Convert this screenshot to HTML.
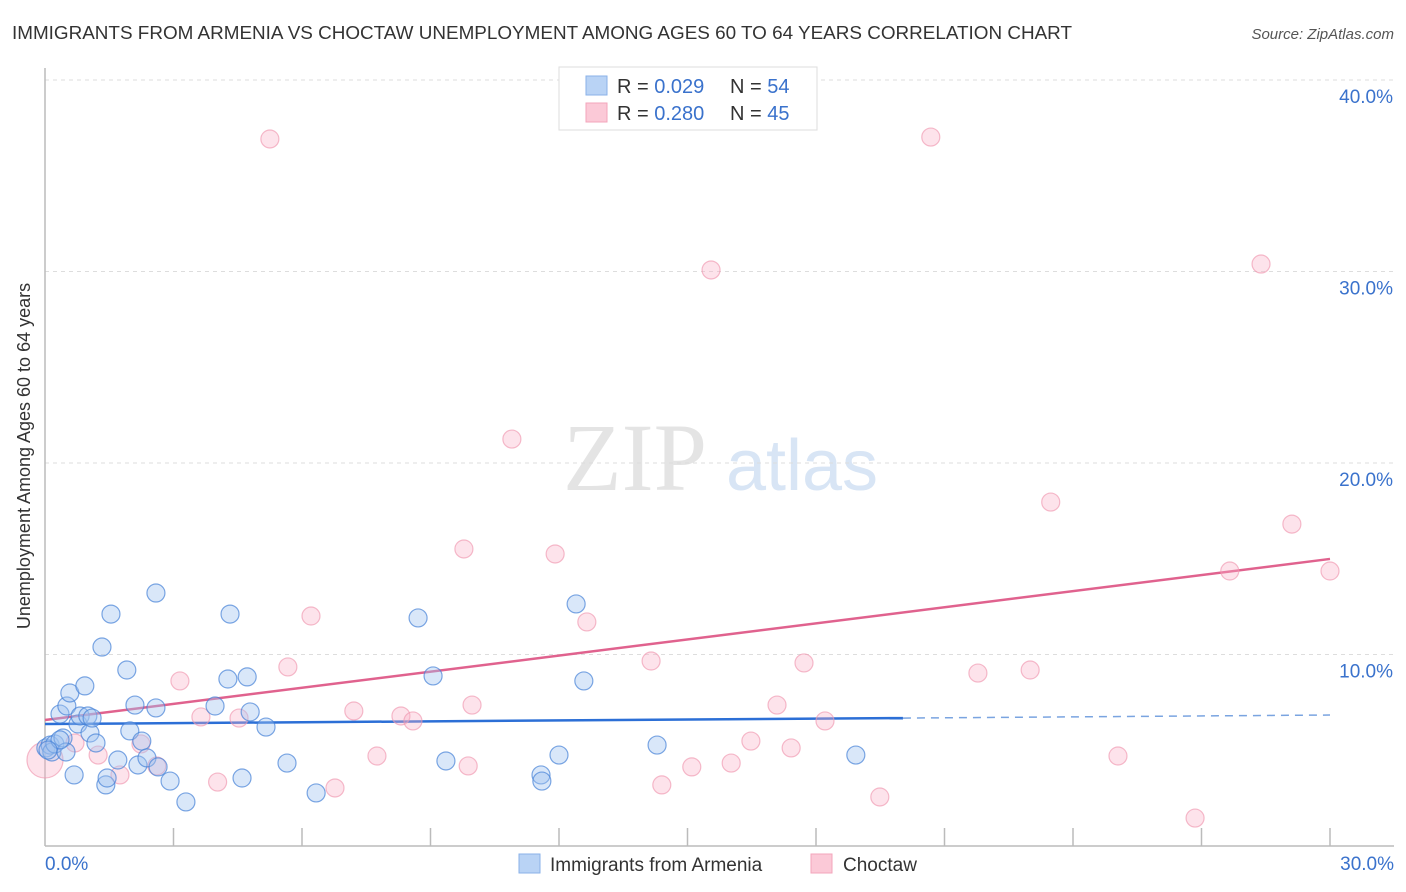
<!DOCTYPE html>
<html><head><meta charset="utf-8"><style>
body{margin:0;background:#fff;font-family:"Liberation Sans",sans-serif;}
svg{display:block}
</style></head><body>
<svg width="1406" height="892" id="chart">
<text x="12" y="39" font-size="18.8" fill="#333" textLength="1060" lengthAdjust="spacingAndGlyphs">IMMIGRANTS FROM ARMENIA VS CHOCTAW UNEMPLOYMENT AMONG AGES 60 TO 64 YEARS CORRELATION CHART</text>
<text x="1394" y="39" font-size="15" fill="#555" font-style="italic" text-anchor="end">Source: ZipAtlas.com</text>
<text x="30" y="456" font-size="18" fill="#333" text-anchor="middle" transform="rotate(-90 30 456)">Unemployment Among Ages 60 to 64 years</text>
<g><text x="635" y="490" font-size="96" fill="#e4e4e4" font-family="Liberation Serif" text-anchor="middle">ZIP</text><text x="802" y="490" font-size="72" fill="#d8e5f5" text-anchor="middle">atlas</text></g>
<g id="grid"></g><g id="axes"></g><g id="trends"></g><g id="pts"></g>
<g>
<rect x="559" y="67" width="258" height="63" fill="#fff" stroke="#ddd"/>
<rect x="586" y="76" width="21" height="19" fill="#b9d3f5" stroke="#8ab2e8"/>
<rect x="586" y="103" width="21" height="19" fill="#fbc9d7" stroke="#f3a5bb"/>
<text x="617" y="93" font-size="20" fill="#333">R = <tspan fill="#3a72cc">0.029</tspan></text>
<text x="730" y="93" font-size="20" fill="#333">N = <tspan fill="#3a72cc">54</tspan></text>
<text x="617" y="120" font-size="20" fill="#333">R = <tspan fill="#3a72cc">0.280</tspan></text>
<text x="730" y="120" font-size="20" fill="#333">N = <tspan fill="#3a72cc">45</tspan></text>
</g>
<g>
<rect x="519" y="854" width="21" height="19" fill="#b9d3f5" stroke="#8ab2e8"/>
<text x="550" y="871" font-size="19" fill="#333">Immigrants from Armenia</text>
<rect x="811" y="854" width="21" height="19" fill="#fbc9d7" stroke="#f3a5bb"/>
<text x="843" y="871" font-size="19" fill="#333">Choctaw</text>
</g>
</svg>
<script>
const blueX=[0.02,0.12,0.16,0.23,0.35,0.42,0.49,0.51,0.58,0.68,0.77,0.82,0.93,1.00,1.05,1.10,1.19,1.33,1.42,1.45,1.54,1.70,1.91,1.98,2.10,2.17,2.26,2.38,2.59,2.59,2.64,2.92,3.29,3.97,4.27,4.32,4.60,4.72,4.79,5.16,5.65,6.33,8.71,9.06,9.36,11.58,11.60,12.00,12.40,12.58,14.29,18.93,0.35,0.07];
const blueY=[5.12,5.27,4.91,5.33,6.89,5.64,4.91,7.31,7.99,3.71,6.37,6.79,8.36,6.79,5.90,6.68,5.38,10.39,3.19,3.55,12.11,4.49,9.19,6.01,7.36,4.23,5.48,4.60,13.21,7.21,4.13,3.39,2.30,7.31,8.72,12.11,3.55,8.83,7.00,6.21,4.33,2.77,11.91,8.88,4.44,3.71,3.39,4.75,12.64,8.62,5.27,4.75,5.54,5.01];
const pinkX=[0,0.70,1.24,1.75,2.24,2.61,3.15,3.64,4.03,4.53,5.25,5.67,6.21,6.77,7.21,7.75,8.31,8.59,9.88,9.97,10.90,9.78,11.91,12.65,14.15,14.40,15.10,15.55,16.02,16.48,17.09,17.42,17.72,18.21,19.49,20.68,21.78,23.00,23.48,25.05,26.85,27.66,28.39,29.11,30.0];
const pinkY=[4.49,5.38,4.75,3.71,5.33,4.18,8.62,6.74,3.34,6.68,36.92,9.35,12.01,3.03,7.05,4.70,6.79,6.53,4.18,7.36,21.25,15.51,15.25,11.70,9.66,3.19,4.13,30.08,4.33,5.48,7.36,5.12,9.56,6.53,2.56,37.02,9.03,9.19,17.96,4.70,1.46,14.36,30.39,16.81,14.36];
const yTicks=[10,20,30,40];
const yTickLabels=["10.0%","20.0%","30.0%","40.0%"];
const blueTrend=[6.37,6.68,6.84];
const pinkTrend=[6.58,14.99];
const X=v=>45+v/30*1285, Y=v=>846-v/10*191.5;
const NS="http://www.w3.org/2000/svg";
function mk(t,a,p){const e=document.createElementNS(NS,t);for(const k in a)e.setAttribute(k,a[k]);p.appendChild(e);return e;}
const grid=document.getElementById('grid'),axes=document.getElementById('axes'),tr=document.getElementById('trends'),pts=document.getElementById('pts');
yTicks.forEach((t,i)=>{
 const l=mk('line',{x1:45,x2:1394,y1:Y(t),y2:Y(t),stroke:'#ddd','stroke-dasharray':'4 4'},grid);
 
 
 const tx=mk('text',{x:1393,y:Y(t)+23,'font-size':19,fill:'#3a72cc','text-anchor':'end'},axes);
 tx.textContent=yTickLabels[i];
 
 
});
const ax=mk('line',{x1:45,x2:45,y1:68,y2:846,stroke:'#bbb','stroke-width':1.5},axes);


const bx=mk('line',{x1:45,x2:1394,y1:846,y2:846,stroke:'#bbb','stroke-width':1.5},axes);


for(let i=1;i<=10;i++){const t=mk('line',{x1:X(i*3),x2:X(i*3),y1:828,y2:846,stroke:'#bbb','stroke-width':1.5},axes);
 
 }
[[0,'0.0%','start',45],[30,'30.0%','end',1394]].forEach(d=>{const t=mk('text',{x:d[3],y:870,'font-size':19,fill:'#3a72cc','text-anchor':d[2]},axes);t.textContent=d[1];
 
 });
pinkX.forEach((x,i)=>{const c=mk('circle',{cx:X(x),cy:Y(pinkY[i]),r:i==0?18:9,fill:'rgba(248,175,197,0.35)',stroke:'rgba(240,150,175,0.65)','stroke-width':1.2},pts);
 
 });
blueX.forEach((x,i)=>{const c=mk('circle',{cx:X(x),cy:Y(blueY[i]),r:9,fill:'rgba(160,195,240,0.4)',stroke:'rgba(70,130,215,0.7)','stroke-width':1.2},pts);
 
 });
let l=mk('line',{x1:X(0),y1:Y(pinkTrend[0]),x2:X(30),y2:Y(pinkTrend[1]),stroke:'#e0628e','stroke-width':2.5},tr);


l=mk('line',{x1:X(0),y1:Y(blueTrend[0]),x2:X(20.03),y2:Y(blueTrend[1]),stroke:'#2c6fd6','stroke-width':2.5},tr);


l=mk('line',{x1:X(20.03),y1:Y(blueTrend[1]),x2:X(30),y2:Y(blueTrend[2]),stroke:'#7aa4e0','stroke-width':1.5,'stroke-dasharray':'8 6'},tr);


</script>
</body></html>
